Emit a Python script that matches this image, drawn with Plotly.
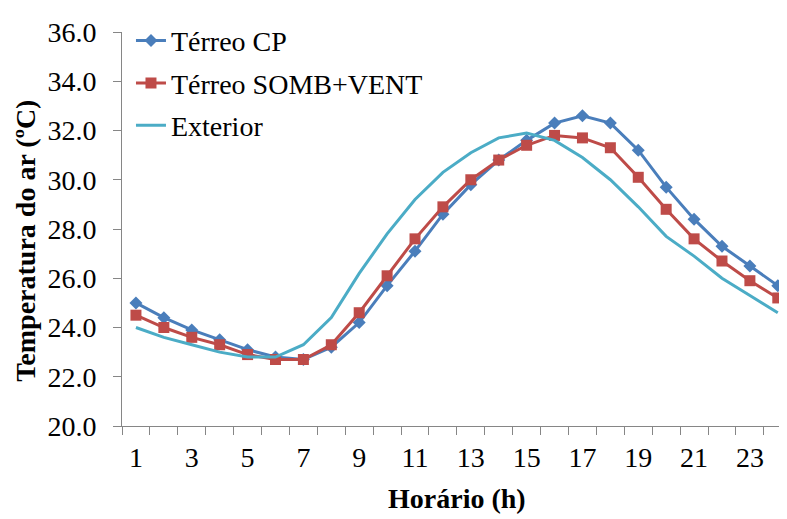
import plotly.graph_objects as go

hours = list(range(1, 25))
x_tick_labels = [str(h) for h in range(1, 24, 2)]
y_tick_vals = [20, 22, 24, 26, 28, 30, 32, 34, 36]

terreo_cp = [25.0, 24.4, 23.9, 23.5, 23.1, 22.8, 22.7, 23.2, 24.2, 25.7, 27.1, 28.6,
             29.8, 30.8, 31.6, 32.3, 32.6, 32.3, 31.2, 29.7, 28.4, 27.3, 26.5, 25.7]
terreo_somb = [24.5, 24.0, 23.6, 23.3, 22.9, 22.7, 22.7, 23.3, 24.6, 26.1, 27.6, 28.9,
               30.0, 30.8, 31.4, 31.8, 31.7, 31.3, 30.1, 28.8, 27.6, 26.7, 25.9, 25.2]
exterior = [24.0, 23.6, 23.3, 23.0, 22.8, 22.8, 23.3, 24.4, 26.2, 27.8, 29.2, 30.3,
            31.1, 31.7, 31.9, 31.6, 30.9, 30.0, 28.9, 27.7, 26.9, 26.0, 25.3, 24.6]

FONT = "Liberation Serif"
AXIS = "#868686"

fig = go.Figure()
fig.add_trace(go.Scatter(x=hours, y=terreo_cp, name="Térreo CP", mode="lines+markers",
                         line=dict(color="#4A7EBB", width=3),
                         marker=dict(symbol="diamond", size=10, color="#4A7EBB"),
                         legendgroup="a"))
fig.add_trace(go.Scatter(x=hours, y=terreo_somb, name="Térreo SOMB+VENT", mode="lines+markers",
                         line=dict(color="#BE4B48", width=3),
                         marker=dict(symbol="square", size=11, color="#BE4B48"),
                         legendgroup="b"))
fig.add_trace(go.Scatter(x=hours, y=exterior, name="Exterior", mode="lines",
                         line=dict(color="#4BACC6", width=3),
                         legendgroup="c"))

fig.update_layout(
    width=787, height=519,
    margin=dict(l=114, r=8, t=18, b=101),
    paper_bgcolor="white", plot_bgcolor="white",
    font=dict(family=FONT, color="black", size=28),
    showlegend=True,
    legend=dict(x=0.0135, y=1.041, xanchor="left", yanchor="top",
                font=dict(family=FONT, size=28, color="black"),
                bgcolor="rgba(0,0,0,0)", tracegroupgap=3, itemwidth=30),
    xaxis=dict(range=[0.5, 24.33], showgrid=False, zeroline=False,
               showline=True, linecolor=AXIS, linewidth=1,
               tickmode="array", tickvals=list(range(1, 24, 2)), ticktext=x_tick_labels,
               ticks="", ticklabelstandoff=6,
               tickfont=dict(family=FONT, size=28, color="black"),
               minor=dict(ticks="outside", tick0=0.5, dtick=1, ticklen=8, tickcolor=AXIS, showgrid=False)),
    yaxis=dict(range=[20, 36], showgrid=False, zeroline=False,
               showline=True, linecolor=AXIS, linewidth=1,
               tickmode="array", tickvals=y_tick_vals,
               ticktext=[f"{v:.1f}" for v in y_tick_vals],
               ticks="outside", ticklen=8, tickcolor=AXIS, ticklabelstandoff=11,
               tickfont=dict(family=FONT, size=28, color="black")),
    annotations=[
        dict(text="<b>Temperatura do ar (ºC)</b>", xref="paper", yref="paper",
             x=-0.145, y=0.469, textangle=-90, showarrow=False,
             font=dict(family=FONT, size=28, color="black"), xanchor="center", yanchor="middle"),
        dict(text="<b>Horário (h)</b>", xref="paper", yref="paper",
             x=0.5045, y=-0.185, showarrow=False,
             font=dict(family=FONT, size=28, color="black"), xanchor="center", yanchor="middle"),
    ],
)

fig.write_html("out.html")
